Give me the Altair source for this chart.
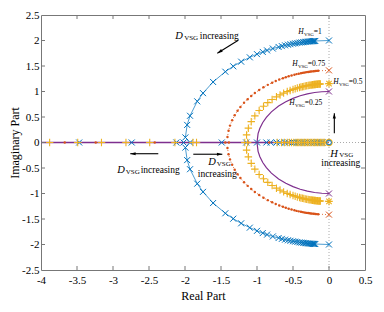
import altair as alt
import pandas as pd

# ---------------- data ----------------
x_ticks = [-4, -3.5, -3, -2.5, -2, -1.5, -1, -0.5, 0, 0.5]
y_ticks = [-2.5, -2, -1.5, -1, -0.5, 0, 0.5, 1, 1.5, 2, 2.5]

# H_VSG = 1 (blue, x markers)
blue_start = [0.0, 2.0]
blue_arc_x = [-0.19, -0.2, -0.21, -0.22, -0.235, -0.25, -0.265, -0.28, -0.3, -0.32, -0.34, -0.36,
              -0.385, -0.41, -0.44, -0.47, -0.5, -0.535, -0.57, -0.61, -0.655, -0.7, -0.78, -0.86,
              -0.92, -1.0, -1.1, -1.22, -1.33, -1.44, -1.61, -1.75, -1.83, -1.93, -1.97, -1.995]
blue_arc_y = [1.991, 1.990, 1.989, 1.988, 1.986, 1.984, 1.982, 1.980, 1.977, 1.974, 1.971, 1.967,
              1.963, 1.958, 1.951, 1.944, 1.936, 1.927, 1.917, 1.905, 1.890, 1.873, 1.842, 1.806,
              1.776, 1.732, 1.670, 1.585, 1.494, 1.388, 1.187, 0.968, 0.807, 0.524, 0.345, 0.10]
blue_real_x = [-3.47, -2.74, -2.12, -2.02, -1.93, -1.49, -1.15, -1.0, -0.87, -0.81, -0.73, -0.68,
               -0.61, -0.565, -0.51, -0.48, -0.44, -0.41, -0.375, -0.345, -0.315, -0.285, -0.255,
               -0.225, -0.2, -0.175, -0.15, -0.13, -0.11, -0.09]

# H_VSG = 0.75 (red, dots)
red_start = [0.0, 1.414]
red_arc_x = [-0.15, -0.17, -0.19, -0.21, -0.23, -0.25, -0.27, -0.29, -0.31, -0.33, -0.35, -0.37,
             -0.39, -0.42, -0.45, -0.48, -0.52, -0.56, -0.6, -0.64, -0.69, -0.74, -0.79, -0.85,
             -0.91, -0.97, -1.03, -1.08, -1.13, -1.18, -1.23, -1.27, -1.31, -1.345, -1.375,
             -1.395, -1.41]
red_arc_y = [1.406, 1.404, 1.401, 1.399, 1.395, 1.392, 1.388, 1.384, 1.380, 1.375, 1.370, 1.365,
             1.359, 1.350, 1.341, 1.330, 1.315, 1.299, 1.281, 1.261, 1.234, 1.205, 1.173, 1.130,
             1.083, 1.029, 0.969, 0.913, 0.850, 0.779, 0.698, 0.622, 0.533, 0.437, 0.331,
             0.232, 0.109]
red_real_x = [-3.67, -3.24, -2.42, -1.44, -1.39, -1.12, -0.83, -0.62, -0.55]

# H_VSG = 0.5 (yellow, + markers)
yellow_start = [0.0, 1.155]
yellow_arc_x = [-0.12, -0.13, -0.14, -0.15, -0.16, -0.17, -0.18, -0.19, -0.2, -0.21, -0.22, -0.23,
                -0.245, -0.26, -0.275, -0.29, -0.31, -0.33, -0.35, -0.37, -0.39, -0.41, -0.44,
                -0.47, -0.5, -0.54, -0.58, -0.63, -0.68, -0.73, -0.79, -0.85, -0.91, -0.97,
                -1.03, -1.08, -1.12, -1.145]
yellow_arc_y = [1.148, 1.147, 1.146, 1.145, 1.144, 1.142, 1.141, 1.139, 1.137, 1.135, 1.134, 1.132,
                1.128, 1.125, 1.121, 1.118, 1.112, 1.107, 1.100, 1.094, 1.087, 1.079, 1.068,
                1.055, 1.041, 1.021, 0.998, 0.968, 0.933, 0.895, 0.842, 0.782, 0.711, 0.626,
                0.522, 0.409, 0.281, 0.149]
yellow_real_x = [-3.88, -3.49, -3.16, -2.82, -2.49, -2.14, -1.89, -1.84, -1.17, -1.13, -0.72,
                 -0.66, -0.62, -0.58, -0.55, -0.52, -0.49, -0.46, -0.44, -0.42, -0.4, -0.38,
                 -0.36, -0.34, -0.32, -0.3, -0.28, -0.26, -0.24, -0.22, -0.2, -0.18, -0.16,
                 -0.14, -0.12, -0.1, -0.08, -0.06]

# H_VSG = 0.25 (purple, solid line)
purple_start = [0.0, 1.0]
purple_arc_x = [0.0, -0.1, -0.2, -0.3, -0.4, -0.5, -0.6, -0.7, -0.8, -0.87, -0.92, -0.96, -0.985, -1.0]
purple_arc_y = [1.0, 0.995, 0.980, 0.954, 0.917, 0.866, 0.8, 0.714, 0.6, 0.493, 0.392, 0.28, 0.173, 0.0]
purple_axis_x = [-4.0, 0.0]

# annotations
ann_text = ["D", "VSG", "increasing",
            "D", "VSG", "increasing",
            "D", "VSG", "increasing",
            "H", "VSG", "increasing"]
ann_x = [-2.135, -2.012, -1.795,
         -2.94, -2.822, -2.615,
         -1.676, -1.56, -1.823,
         0.018, 0.143, -0.107]
ann_y = [2.085, 2.055, 2.085,
         -0.543, -0.575, -0.543,
         -0.387, -0.42, -0.62,
         -0.217, -0.25, -0.41]
ann_kind = ["it", "sub", "word"] * 4

lab_text = ["=1", "=0.75", "=0.5", "=0.25"]
lab_x = [-0.426, -0.51, 0.06, -0.551]
lab_y = [2.163, 1.535, 1.182, 0.771]

arr_x = [-1.26, -2.371, -1.885, 0.074]
arr_y = [2.006, -0.22, -0.23, 0.182]
arr_x2 = [-1.551, -2.76, -1.482, 0.074]
arr_y2 = [1.751, -0.22, -0.23, 0.575]
arr_angle = [238, 270, 90, 0]

# ---------------- build tables ----------------
def series_tables(name, start, ax, ay, real_x):
    pts, lines = [], []
    for sign, path in ((1, name + "_u"), (-1, name + "_l")):
        seq = [(start[0], start[1])] + list(zip(ax, ay))
        for i, (px, py) in enumerate(seq):
            lines.append({"x": px, "y": sign * py, "path": path, "order": i})
        for px, py in zip(ax, ay):
            pts.append({"x": px, "y": sign * py})
    for px in real_x:
        pts.append({"x": px, "y": 0.0})
    starts = pd.DataFrame({"x": [start[0], start[0]], "y": [start[1], -start[1]]})
    return pd.DataFrame(pts), pd.DataFrame(lines), starts

W, H = 324, 255
FONT = "Liberation Serif"
FRAME = "#777777"

xs = alt.Scale(domain=[-4, 0.5], nice=False, zero=False)
ys = alt.Scale(domain=[-2.5, 2.5], nice=False, zero=False)
xaxis = alt.Axis(values=x_ticks, labelExpr="'' + datum.value", tickSize=0, domain=False, grid=False,
                 labelFont=FONT, labelFontSize=11, labelColor="black", labelPadding=4,
                 labelFlush=False, labelOverlap=False, title="Real Part", titleFont=FONT,
                 titleFontSize=12, titleFontWeight="normal", titleColor="black", titlePadding=5)
yaxis = alt.Axis(values=y_ticks, labelExpr="'' + datum.value", tickSize=0, domain=False, grid=False,
                 labelFont=FONT, labelFontSize=11, labelColor="black", labelPadding=2,
                 labelFlush=False, labelOverlap=False, title="Imaginary Part", titleFont=FONT,
                 titleFontSize=12, titleFontWeight="normal", titleColor="black", titlePadding=0)


def X(f="x"):
    return alt.X(f + ":Q", scale=xs, axis=xaxis)


def Y(f="y"):
    return alt.Y(f + ":Q", scale=ys, axis=yaxis)


XPATH = "M-1,-1L1,1M-1,1L1,-1"
PLUS = "M-1,0L1,0M0,-1L0,1"
STAR = "M-1,0L1,0M0,-1L0,1M-0.72,-0.72L0.72,0.72M-0.72,0.72L0.72,-0.72"
HEAD = "M0,0L-0.5,1.7L0.5,1.7Z"

BLUE, RED, YEL, PUR = "#0072BD", "#D95319", "#EDB120", "#7E2F8E"

layers = []

# zero reference lines (dotted grey)
zero_df = pd.DataFrame({"v": [0.0]})
layers.append(alt.Chart(zero_df).mark_rule(color="#aaaaaa", strokeDash=[1, 2], strokeWidth=1)
              .encode(x=X("v")))
layers.append(alt.Chart(zero_df).mark_rule(color="#aaaaaa", strokeDash=[1, 2], strokeWidth=1)
              .encode(y=Y("v")))

# purple line along the real axis
layers.append(alt.Chart(pd.DataFrame({"x": purple_axis_x, "y": [0.0, 0.0]}))
              .mark_line(color=PUR, strokeWidth=1.3, clip=True).encode(x=X(), y=Y()))

# blue
bp, bl, bs = series_tables("b", blue_start, blue_arc_x, blue_arc_y, blue_real_x)
layers.append(alt.Chart(bl).mark_line(color=BLUE, strokeWidth=0.7, clip=True)
              .encode(x=X(), y=Y(), detail="path:N", order="order:Q"))
layers.append(alt.Chart(pd.concat([bp, bs])).mark_point(shape=XPATH, size=36, filled=False,
              color=BLUE, strokeWidth=1, opacity=1, clip=True).encode(x=X(), y=Y()))

# red
rp, rl, rs = series_tables("r", red_start, red_arc_x, red_arc_y, red_real_x)
layers.append(alt.Chart(rl).mark_line(color=RED, strokeWidth=0.8, strokeDash=[1, 2], clip=True)
              .encode(x=X(), y=Y(), detail="path:N", order="order:Q"))
layers.append(alt.Chart(rp).mark_circle(color=RED, size=6, opacity=1, clip=True).encode(x=X(), y=Y()))
layers.append(alt.Chart(rs).mark_point(shape=XPATH, size=36, filled=False, color=RED,
              strokeWidth=1, opacity=1).encode(x=X(), y=Y()))

# yellow
yp, yl, ysd = series_tables("y", yellow_start, yellow_arc_x, yellow_arc_y, yellow_real_x)
layers.append(alt.Chart(yl).mark_line(color=YEL, strokeWidth=0.6, strokeDash=[1, 2], clip=True)
              .encode(x=X(), y=Y(), detail="path:N", order="order:Q"))
layers.append(alt.Chart(yp).mark_point(shape=PLUS, size=56, filled=False, color=YEL,
              strokeWidth=1.1, opacity=1, clip=True).encode(x=X(), y=Y()))
layers.append(alt.Chart(ysd).mark_point(shape=STAR, size=56, filled=False, color=YEL,
              strokeWidth=1.1, opacity=1).encode(x=X(), y=Y()))

# origin circles
org = pd.DataFrame({"x": [0.0], "y": [0.0]})
layers.append(alt.Chart(org).mark_point(shape="circle", size=40, filled=False, color=YEL,
              strokeWidth=1.2, opacity=1).encode(x=X(), y=Y()))
layers.append(alt.Chart(org).mark_point(shape="circle", size=22, filled=False, color=BLUE,
              strokeWidth=1, opacity=1).encode(x=X(), y=Y()))

# purple arcs
pl_rows = []
for sign, path in ((1, "u"), (-1, "l")):
    for i, (px, py) in enumerate(zip(purple_arc_x, purple_arc_y)):
        pl_rows.append({"x": px, "y": sign * py, "path": path, "order": i})
layers.append(alt.Chart(pd.DataFrame(pl_rows)).mark_line(color=PUR, strokeWidth=1.2)
              .encode(x=X(), y=Y(), detail="path:N", order="order:Q"))
layers.append(alt.Chart(pd.DataFrame({"x": [purple_start[0]] * 2, "y": [purple_start[1], -purple_start[1]]}))
              .mark_point(shape=XPATH, size=36, filled=False, color=PUR, strokeWidth=1, opacity=1)
              .encode(x=X(), y=Y()))

# inward ticks on all four sides
xt = pd.DataFrame({"v": x_ticks[1:-1]})
yt = pd.DataFrame({"v": y_ticks[1:-1]})
layers.append(alt.Chart(xt).mark_rule(color=FRAME, strokeWidth=1)
              .encode(x=X("v"), y=alt.value(H), y2=alt.value(H - 4)))
layers.append(alt.Chart(xt).mark_rule(color=FRAME, strokeWidth=1)
              .encode(x=X("v"), y=alt.value(0), y2=alt.value(4)))
layers.append(alt.Chart(yt).mark_rule(color=FRAME, strokeWidth=1)
              .encode(y=Y("v"), x=alt.value(0), x2=alt.value(4)))
layers.append(alt.Chart(yt).mark_rule(color=FRAME, strokeWidth=1)
              .encode(y=Y("v"), x=alt.value(W), x2=alt.value(W - 4)))

# arrows
arr = pd.DataFrame({"x": arr_x, "y": arr_y, "x2": arr_x2, "y2": arr_y2, "angle": arr_angle})
layers.append(alt.Chart(arr).mark_rule(color="black", strokeWidth=1.1)
              .encode(x=X(), y=Y(), x2="x2:Q", y2="y2:Q"))
layers.append(alt.Chart(arr).mark_point(shape=HEAD, size=40, filled=True, color="black", opacity=1)
              .encode(x=X("x2"), y=Y("y2"), angle=alt.Angle("angle:Q", scale=None)))

# annotation texts
ann = pd.DataFrame({"x": ann_x, "y": ann_y, "t": ann_text, "k": ann_kind})
styles = {"it": dict(fontSize=10.5, fontStyle="italic"),
          "sub": dict(fontSize=7),
          "word": dict(fontSize=9.5)}
for k, st in styles.items():
    layers.append(alt.Chart(ann[ann.k == k]).mark_text(align="left", baseline="middle", font=FONT,
                  color="black", **st).encode(x=X(), y=Y(), text="t:N"))

# H_VSG value labels
lab = pd.DataFrame({"x": lab_x, "y": lab_y, "t": lab_text})
layers.append(alt.Chart(lab).mark_text(align="left", baseline="middle", font=FONT, fontSize=7.5,
              fontStyle="italic", color="black", text="H").encode(x=X(), y=Y()))
layers.append(alt.Chart(lab).mark_text(align="left", baseline="middle", font=FONT, fontSize=5,
              color="black", text="VSG", dx=5.6, dy=1.5).encode(x=X(), y=Y()))
layers.append(alt.Chart(lab).mark_text(align="left", baseline="middle", font=FONT, fontSize=7.5,
              color="black", dx=15.5).encode(x=X(), y=Y(), text="t:N"))

chart = alt.layer(*layers).properties(
    width=W, height=H,
    autosize=alt.AutoSizeParams(type="none"),
    padding={"left": 33, "top": 7, "right": 10, "bottom": 40},
).configure_view(stroke=FRAME, strokeWidth=1)

chart.save("out.html", embed_options={"renderer": "svg", "actions": False})
